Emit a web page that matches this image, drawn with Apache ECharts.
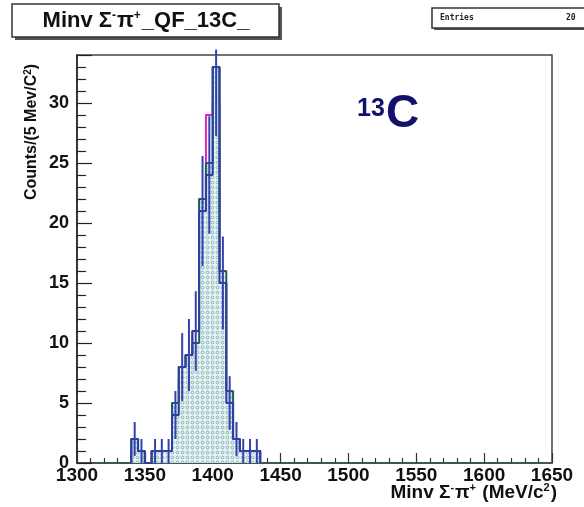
<!DOCTYPE html>
<html>
<head>
<meta charset="utf-8">
<script src="https://cdn.jsdelivr.net/npm/echarts@6/dist/echarts.min.js"></script>
<style>
html,body{margin:0;padding:0;background:#fff;}
#c{width:584px;height:507px;}
</style>
</head>
<body>
<div id="c"></div>
<script>
// ---- data (5 MeV bins, lower bin edges) ----
const binStart = [1340,1345,1350,1355,1360,1365,1370,1375,1380,1385,1390,1395,1400,1405,1410,1415,1420,1425,1430];
const binWidth = 5;
const filledCounts  = [2,1,0,1,1,1,5,8,9,10,22,25,33,16,6,2,1,1,1];
const blueCounts    = [2,1,0,1,1,1,4,8,9,11,21,24,33,15,5,2,1,1,1];
const magentaCounts = [1,1,0,1,1,1,5,7,9,11,22,29,30,15,5,2,1,1,1];
const xTicks = [1300,1350,1400,1450,1500,1550,1600,1650];
const yTicks = [0,5,10,15,20,25,30];
const yMax = 34;

function stepData(counts){
  const d = [[binStart[0],0]];
  for (let i=0;i<counts.length;i++) d.push([binStart[i],counts[i]]);
  d.push([binStart[binStart.length-1]+binWidth,0]);
  return d;
}
function errData(counts){
  const d=[];
  for (let i=0;i<counts.length;i++){
    if (counts[i]>0){
      const e=Math.sqrt(counts[i]);
      d.push([binStart[i]+binWidth/2, counts[i]-e, Math.min(counts[i]+e, yMax+0.45)]);
    }
  }
  return d;
}

// dotted fill pattern
const pat = document.createElement('canvas');
pat.width=5; pat.height=5;
const pc = pat.getContext('2d');
pc.fillStyle='#e4f4f4'; pc.fillRect(0,0,5,5);
pc.strokeStyle='#7aa3a6'; pc.lineWidth=0.8;
pc.beginPath(); pc.arc(2.5,2.5,1.4,0,Math.PI*2); pc.stroke();

const chart = echarts.init(document.getElementById('c'), null, {renderer:'canvas'});
const F = '"Liberation Sans", Arial, sans-serif';

chart.setOption({
  animation:false,
  backgroundColor:'#fff',
  grid:{left:77,right:32,top:55,bottom:44,show:true,borderColor:'#444',borderWidth:1.5,backgroundColor:'transparent'},
  xAxis:{
    type:'value',min:xTicks[0],max:xTicks[xTicks.length-1],interval:50,
    axisLine:{lineStyle:{color:'#2f4f4f',width:1.5}},
    axisTick:{inside:true,length:10,lineStyle:{color:'#333',width:1.2}},
    minorTick:{show:true,splitNumber:5,length:5,lineStyle:{color:'#333',width:1.2}},
    splitLine:{show:false},
    axisLabel:{color:'#111',fontFamily:F,fontWeight:'bold',fontSize:19,margin:3,
      formatter:v=>xTicks.includes(v)?String(v):''}
  },
  yAxis:{
    type:'value',min:0,max:yMax,interval:5,
    axisLine:{lineStyle:{color:'#222',width:1.5}},
    axisTick:{inside:true,length:15,lineStyle:{color:'#222',width:1.2}},
    minorTick:{show:true,splitNumber:5,length:9,lineStyle:{color:'#222',width:1.2}},
    splitLine:{show:false},
    axisLabel:{color:'#111',fontFamily:F,fontWeight:'bold',fontSize:18,margin:8,
      formatter:v=>yTicks.includes(v)?String(v):''}
  },
  series:[
    {type:'line',step:'end',symbol:'none',data:stepData(magentaCounts),
      lineStyle:{color:'#e022c8',width:2},z:2},
    {type:'line',step:'end',symbol:'none',data:stepData(filledCounts),
      lineStyle:{color:'#1f5e5e',width:2},
      areaStyle:{color:{image:pat,repeat:'repeat'},opacity:1},z:3},
    {type:'line',step:'end',symbol:'none',data:stepData(blueCounts),
      lineStyle:{color:'#2b3f9e',width:2},z:4},
    {type:'custom',z:5,data:errData(blueCounts),
      renderItem:(params,api)=>{
        const p1=api.coord([api.value(0),api.value(1)]);
        const p2=api.coord([api.value(0),api.value(2)]);
        return {type:'line',shape:{x1:p1[0],y1:p1[1],x2:p2[0],y2:p2[1]},
          style:{stroke:'#3342b0',lineWidth:2}};
      }}
  ],
  graphic:[
    // title box with shadow
    {type:'rect',shape:{x:15,y:7,width:267,height:33},style:{fill:'#555'},z:10},
    {type:'rect',shape:{x:12,y:4,width:267,height:33},style:{fill:'#fff',stroke:'#333',lineWidth:1.5},z:11},
    {type:'text',z:12,style:{x:146,y:21,textAlign:'center',textVerticalAlign:'middle',
      text:'{b|Minv Σ}{s|-}{b|π}{s|+}{b|_QF_13C_}',
      rich:{b:{font:'bold 22px '+F,fill:'#111'},s:{font:'bold 12px '+F,fill:'#111',padding:[0,1,11,0]}}}},
    // stats box
    {type:'rect',shape:{x:434,y:10,width:160,height:20},style:{fill:'#555'},z:10},
    {type:'rect',shape:{x:432,y:8,width:160,height:20},style:{fill:'#fff',stroke:'#333',lineWidth:1.5},z:11},
    {type:'text',z:12,style:{x:440,y:18,textVerticalAlign:'middle',text:'Entries',font:'bold 8px "DejaVu Sans Mono", monospace',fill:'#222'}},
    {type:'text',z:12,style:{x:566,y:18,textVerticalAlign:'middle',text:'20',font:'bold 8px "DejaVu Sans Mono", monospace',fill:'#222'}},
    // 13C label
    {type:'text',z:12,style:{x:357,y:97,text:'13',font:'bold 25px '+F,fill:'#12126a'}},
    {type:'text',z:12,style:{x:386,y:137,textVerticalAlign:'bottom',text:'C',font:'bold 46px '+F,fill:'#12126a'}},
    // y axis title
    {type:'text',z:12,rotation:Math.PI/2,x:32,y:132,style:{x:0,y:0,textAlign:'center',textVerticalAlign:'middle',
      text:'{b|Counts/(5 Mev/C}{s|2}{b|)}',
      rich:{b:{font:'bold 16px '+F,fill:'#111'},s:{font:'bold 10px '+F,fill:'#111',padding:[0,0,8,0]}}}},
    // x axis title
    {type:'text',z:12,style:{x:557,y:493,textAlign:'right',textVerticalAlign:'middle',
      text:'{b|Minv Σ}{s|-}{b|π}{s|+}{b| (MeV/c}{s|2}{b|)}',
      rich:{b:{font:'bold 19px '+F,fill:'#111'},s:{font:'bold 11px '+F,fill:'#111',padding:[0,1,10,0]}}}}
  ]
});
</script>
</body>
</html>
